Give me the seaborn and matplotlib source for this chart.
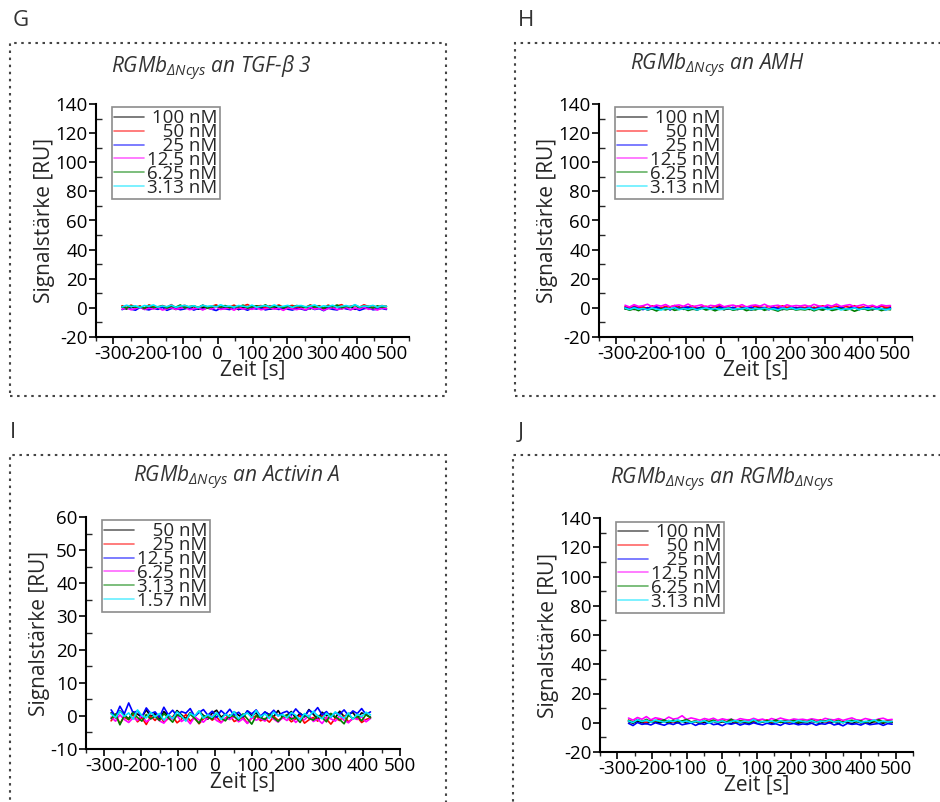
import numpy as np
import pandas as pd
import seaborn as sns
import matplotlib.pyplot as plt
from matplotlib.patches import Rectangle
from matplotlib.ticker import MultipleLocator

colors = ['#000000', '#ff0000', '#0000ff', '#ff00ff', '#008000', '#00e5ff']

conc_100 = ['100 nM', '50 nM', '25 nM', '12.5 nM', '6.25 nM', '3.13 nM']
conc_50 = ['50 nM', '25 nM', '12.5 nM', '6.25 nM', '3.13 nM', '1.57 nM']

# G: RGMb an TGF-b3
g_black = [0.3,-0.8,0.9,-0.2,1.1,-1.0,0.4,0.0,-0.6,1.3,-0.3,0.7,-1.1,0.2,0.8,-0.5,1.0,-0.9,0.1,0.6,-0.4,1.2,-0.7,0.3,-0.1,0.9,-1.2,0.5,0.2,-0.6,1.4,-0.2,0.6,-0.9,0.0,1.0,-0.5,0.4,-1.0,0.7,
           -0.3,0.8,-0.7,1.1,0.2,-0.9,0.6,-0.1,1.2,-0.6,0.3,0.9,-1.0,0.5,-0.2,1.0,-0.8,0.4,0.1,-0.5]
g_red = [1.5,0.2,1.9,0.6,1.2,-0.1,2.0,0.9,0.3,1.6,0.5,2.2,0.0,1.1,1.7,0.4,1.3,-0.2,1.8,0.7,1.0,2.1,0.3,1.4,0.6,1.9,0.1,1.2,2.3,0.5,1.0,1.6,-0.1,1.5,0.8,2.0,0.4,1.1,1.7,0.2,
         1.2,0.4,2.0,0.8,1.5,-0.1,1.9,0.6,1.3,2.2,0.3,1.0,1.7,0.5,2.1,0.9,1.4,0.2,1.6,0.8]
g_blue = [-1.2,0.1,-0.9,-1.6,0.3,-0.8,-1.4,-0.2,-1.0,0.4,-1.7,-0.5,-0.1,-1.3,-0.7,0.2,-1.5,-0.4,-1.1,0.0,-0.9,-1.8,-0.3,-0.6,-1.2,0.3,-1.0,-0.5,-1.6,-0.2,-0.8,0.1,-1.4,-0.7,-0.3,-1.1,0.2,-0.9,-1.5,-0.4,
          -0.8,-1.6,0.1,-1.1,-0.5,-1.9,-0.2,-1.0,-1.4,0.2,-0.7,-1.2,-0.3,-1.7,-0.6,0.0,-1.3,-0.9,-0.4,-1.1]
g_magenta = [-0.9,0.2,-1.3,-0.4,0.5,-1.1,-0.2,-0.8,0.3,-1.5,-0.6,0.1,-1.0,-0.3,0.4,-1.2,-0.7,0.0,-1.4,-0.1,-0.9,0.6,-1.1,-0.5,-0.2,-1.6,0.2,-0.8,-0.4,-1.0,0.3,-1.3,-0.6,0.1,-0.9,-0.3,-1.7,0.0,-0.7,-1.2,
             -0.3,-1.4,0.4,-0.9,-0.1,-1.6,-0.5,0.2,-1.1,-0.7,0.3,-1.3,-0.2,-0.8,0.5,-1.0,-0.4,-1.5,0.0,-0.6]
g_green = [1.0,-0.2,1.5,0.4,0.9,-0.4,1.7,0.2,0.8,1.3,-0.1,1.1,0.5,2.0,0.0,0.9,1.4,0.3,1.8,-0.3,0.7,1.2,0.4,1.6,0.1,1.0,0.6,1.9,-0.2,0.8,1.3,0.5,2.1,0.2,0.9,1.4,0.0,1.1,0.7,1.6,
           0.9,0.2,1.7,0.5,1.2,-0.3,1.5,0.7,2.0,0.1,1.0,0.6,1.8,0.3,1.3,0.8,-0.1,1.4,0.5,1.1]
g_cyan = [0.6,1.8,0.9,1.4,0.3,1.6,1.1,2.0,0.5,1.3,0.8,1.9,0.4,1.2,1.7,0.7,1.5,0.2,1.8,1.0,1.4,0.6,2.1,0.9,1.3,0.5,1.6,1.1,0.7,1.9,0.4,1.2,1.5,0.8,2.0,0.6,1.1,1.7,0.3,1.4,
          1.6,0.7,1.2,2.0,0.5,1.4,0.9,1.8,0.4,1.1,1.6,0.8,2.2,0.6,1.3,1.0,1.7,0.4,1.5,0.9]

# H: RGMb an AMH
h_black = [-0.8,0.3,-1.1,-0.2,0.5,-1.4,-0.5,0.1,-0.9,0.4,-1.2,-0.3,0.6,-1.0,-0.6,0.2,-1.5,-0.1,0.3,-0.9,-0.4,0.7,-1.3,-0.2,0.1,-1.0,-0.7,0.5,-1.6,-0.3,0.2,-0.8,-1.1,0.4,-0.5,-1.2,0.0,-0.6,0.3,-0.9,
           -0.2,-1.1,0.4,-0.7,-1.3,0.1,-0.5,-0.9,0.5,-1.2,-0.3,0.2,-1.0,-0.6,0.4,-1.4,-0.1,-0.8,0.3,-0.5]
h_red = [0.9,-0.3,1.2,0.2,0.7,-0.5,1.4,0.4,-0.1,1.0,0.6,1.6,-0.2,0.8,0.3,1.3,-0.4,0.5,1.1,0.0,0.9,1.5,0.2,0.7,-0.3,1.2,0.4,0.8,-0.1,1.3,0.6,0.1,1.0,-0.2,0.5,1.4,0.3,0.9,-0.4,0.6,
         0.2,1.1,-0.3,0.8,1.4,0.0,0.6,1.2,-0.2,0.9,0.4,1.5,0.1,0.7,-0.4,1.0,0.5,1.3,0.2,0.7]
h_blue = [0.3,-0.9,0.5,-0.4,-1.2,0.2,-0.6,0.7,-0.8,0.0,-1.3,0.4,-0.5,-0.1,0.6,-1.0,-0.3,0.3,-0.9,0.1,-1.4,0.5,-0.2,-0.7,0.4,-1.1,0.0,-0.5,0.6,-0.8,-0.3,0.2,-1.2,0.4,-0.6,0.1,-0.9,0.5,-0.4,-0.1,
          -0.6,0.3,-1.0,0.0,-0.4,0.6,-1.2,-0.2,0.4,-0.8,-0.1,0.5,-1.1,-0.3,0.2,-0.9,0.3,-0.5,-1.3,0.1]
h_magenta = [1.8,0.6,2.2,1.0,1.5,2.5,0.8,1.9,1.2,2.3,0.7,1.6,2.0,1.1,2.6,0.9,1.4,2.1,0.5,1.7,1.3,2.4,0.8,1.5,1.9,1.0,2.2,0.6,1.6,2.0,1.2,2.5,0.9,1.4,1.8,0.7,2.1,1.1,1.6,1.3,
             1.9,0.9,2.4,1.4,0.7,2.0,1.2,2.6,1.0,1.7,2.2,0.8,1.5,2.3,1.1,1.8,0.6,2.0,1.4,1.6]
h_green = [-0.5,-1.6,-0.7,-1.9,-0.3,-1.2,-0.8,-2.1,-0.6,-1.4,-0.2,-1.7,-1.0,-0.4,-1.8,-0.9,-1.3,-0.1,-1.5,-0.7,-2.0,-0.8,-1.1,-0.3,-1.6,-1.0,-0.5,-1.9,-0.9,-1.4,-0.2,-1.7,-0.6,-1.2,-2.2,-0.7,-1.3,-0.4,-1.5,-1.0,
           -1.4,-0.6,-2.0,-0.9,-1.5,-0.3,-1.8,-1.1,-0.5,-1.6,-0.8,-2.3,-1.2,-0.4,-1.7,-1.0,-0.6,-1.9,-0.9,-1.3]
h_cyan = [-0.2,-1.1,0.0,-0.9,-0.4,-1.3,-0.1,-0.8,-1.5,-0.3,-0.7,0.1,-1.2,-0.5,-0.9,-0.2,-1.4,-0.6,0.0,-1.0,-0.3,-1.2,-0.7,-0.1,-1.1,-0.5,-0.8,0.1,-1.3,-0.4,-0.9,-0.2,-1.0,-0.6,-1.4,-0.3,-0.8,0.0,-1.1,-0.5,
          -0.9,-0.1,-1.3,-0.5,0.1,-1.1,-0.7,-0.2,-1.4,-0.6,-0.9,0.0,-1.2,-0.4,-0.8,-0.3,-1.0,-0.5,-1.3,-0.7]

# I: RGMb an Activin A
i_black = [0.9,-0.6,1.5,0.2,-0.9,1.2,0.5,-0.4,1.8,-0.2,0.7,-1.1,1.3,0.0,-0.5,1.6,0.3,-0.8,1.0,-0.3,1.4,0.1,-1.0,0.8,1.7,-0.4,0.5,-0.7,1.2,0.2,-0.6,1.5,0.0,0.9,-0.9,1.1,0.4,-0.2,1.6,-0.5,
           0.2,1.3,-0.7,0.8,-0.3,1.9,0.5,-1.0,1.1,0.0,0.7,-0.6,1.4,-0.2,0.6,1.0,-0.8,0.9,0.3,-0.4]
i_red = [-1.5,0.2,-2.3,-0.4,-1.2,0.5,-1.8,-0.6,-2.6,-0.1,-1.4,0.3,-1.9,-0.8,-0.2,-2.1,-1.0,0.4,-1.6,-0.5,-2.4,-0.9,0.1,-1.3,-0.3,-2.0,-0.7,0.2,-1.7,-1.1,-0.4,-2.2,-0.6,0.0,-1.5,-0.8,-1.9,-0.2,-1.3,-0.7,
         -0.3,-1.8,-0.9,0.1,-2.2,-1.2,-0.5,-1.6,0.2,-1.0,-2.5,-0.7,-1.4,0.0,-1.8,-0.9,-0.4,-2.0,-1.1,-0.6]
i_blue = [1.8,-0.2,2.9,0.6,3.9,0.9,1.5,-0.3,2.4,0.7,1.2,-0.4,2.6,0.3,1.7,-0.1,1.3,0.8,2.2,-0.2,1.0,1.9,0.2,1.4,-0.5,1.6,0.4,2.0,0.1,1.1,-0.3,1.5,0.6,1.8,-0.1,1.2,0.3,1.7,0.0,0.9,
          1.4,0.2,2.1,0.6,-0.2,1.7,0.9,2.5,0.3,1.3,-0.4,1.0,0.5,1.8,0.1,1.5,0.7,2.2,0.4,1.2]
i_magenta = [-0.4,-1.6,0.3,-1.1,-2.0,-0.6,-1.4,0.2,-1.8,-0.9,-0.2,-1.5,-2.2,-0.5,-1.0,0.1,-1.7,-0.8,-2.4,-0.3,-1.2,-1.9,-0.6,0.0,-1.4,-2.1,-0.7,-1.1,-0.2,-1.8,-0.9,-2.3,-0.4,-1.3,-0.8,-1.6,0.1,-1.0,-1.9,-0.5,
             -1.4,-0.3,-2.0,-0.7,-1.2,0.2,-1.7,-1.0,-2.3,-0.5,-0.9,-1.6,0.0,-1.3,-2.1,-0.6,-1.1,-0.2,-1.8,-0.8]
i_green = [-0.8,0.6,-2.7,0.2,-1.1,0.9,-0.5,-1.6,0.4,-0.9,-0.1,-1.4,0.7,-0.6,-1.9,0.3,-0.3,-1.2,0.5,-0.8,-2.2,0.1,-0.4,-1.0,0.8,-0.7,-1.5,0.2,-0.2,-1.3,0.6,-0.9,-2.5,0.0,-0.5,-1.1,0.4,-0.6,-1.7,-0.2,
           0.3,-1.0,-0.4,-2.0,0.5,-0.7,-1.3,0.1,-0.5,-1.8,0.7,-0.3,-1.1,-2.4,0.2,-0.8,-0.1,-1.5,0.4,-0.6]
i_cyan = [0.6,-0.5,1.4,-0.2,0.9,-1.0,1.8,0.1,-0.6,1.1,-0.3,0.7,-1.3,0.4,-0.8,1.2,0.0,-1.6,0.8,-0.1,1.5,-0.7,0.3,-0.4,1.0,-1.1,0.5,-0.2,1.3,-0.9,0.2,0.9,-0.5,1.6,-0.3,0.6,-0.8,1.1,0.0,0.4,
          -0.6,1.0,0.2,-1.2,0.7,-0.3,1.4,0.0,-0.9,0.8,-0.4,1.2,0.1,-0.7,0.9,-1.0,0.5,-0.2,1.1,0.3]

# J: RGMb an RGMb
j_black = [0.8,-0.3,1.2,0.1,-0.6,0.9,0.4,-0.2,1.1,-0.5,0.6,0.0,1.3,-0.4,0.2,0.8,-0.7,0.5,-0.1,1.0,-0.3,0.7,0.2,-0.6,1.1,0.0,0.4,-0.5,0.9,-0.2,0.6,1.2,-0.4,0.3,0.8,-0.1,1.0,0.1,-0.3,0.5,
           -0.2,0.9,0.3,-0.6,1.1,0.0,0.5,-0.4,0.8,0.2,-0.7,1.0,-0.1,0.6,-0.5,0.9,0.3,-0.3,0.7,0.1]
j_red = [1.8,0.5,2.3,1.0,0.3,1.9,1.2,2.5,0.6,1.5,0.2,1.7,0.9,2.1,0.4,1.3,-0.3,1.6,0.7,1.1,0.2,1.8,0.5,1.4,0.0,1.2,0.8,1.9,0.3,1.5,0.6,2.0,0.4,1.3,0.9,1.7,0.2,1.4,0.8,1.1,
         0.4,1.6,0.9,2.1,0.3,1.3,0.7,1.8,0.1,1.2,0.6,1.9,1.0,0.2,1.5,0.8,2.0,0.5,1.4,0.9]
j_blue = [-0.4,-1.9,0.2,-1.1,-0.6,-1.5,0.0,-0.9,-1.7,-0.3,-1.2,0.1,-1.4,-0.7,-0.2,-1.8,-0.5,-1.1,0.2,-1.3,-0.8,-2.0,-0.4,-1.0,-0.1,-1.6,-0.6,-1.2,0.0,-0.9,-1.5,-0.3,-1.1,-0.7,-1.8,-0.2,-1.0,-0.5,-1.4,-0.8,
          -1.2,-0.3,-1.7,-0.6,-1.0,0.1,-1.5,-0.8,-2.1,-0.4,-1.1,-0.7,-1.6,-0.2,-1.3,-0.9,-0.5,-1.8,-0.6,-1.0]
j_magenta = [3.2,1.8,3.6,2.4,4.2,2.0,3.4,2.8,1.9,3.9,2.5,3.0,4.8,2.2,3.3,2.6,1.7,2.9,2.1,3.1,1.6,2.7,2.0,2.4,1.5,2.8,2.2,1.8,3.0,1.9,2.5,1.4,2.9,2.0,3.2,2.3,1.7,2.6,2.1,2.4,
             1.8,2.7,2.1,1.5,3.0,2.3,1.9,2.8,1.6,2.5,3.3,2.0,1.7,2.9,2.2,1.5,2.6,3.1,1.9,2.3]
j_green = [1.6,0.3,1.9,0.8,2.3,0.6,1.4,1.0,2.0,0.4,1.7,0.9,1.2,2.2,0.5,1.1,0.2,1.5,0.7,1.8,0.3,1.0,0.6,2.4,0.4,1.3,0.8,0.1,1.6,0.9,0.5,1.4,0.7,1.9,0.2,1.1,0.8,1.5,0.4,1.0,
           0.7,1.8,0.3,1.2,0.9,2.0,0.5,1.4,0.1,1.1,1.7,0.6,1.3,0.2,1.5,0.8,2.1,0.4,1.0,0.7]
j_cyan = [1.2,0.2,2.1,0.9,1.6,0.4,1.9,1.1,0.3,1.5,0.7,2.0,0.5,1.2,0.1,1.0,0.6,1.4,-0.2,0.9,0.4,1.3,0.0,0.8,1.5,0.3,1.1,0.6,2.2,0.2,0.9,0.5,1.2,0.1,1.4,0.7,1.0,0.3,1.6,0.8,
          0.5,1.4,0.2,1.1,0.7,1.8,0.4,0.9,-0.1,1.3,0.6,1.5,0.2,1.0,0.8,2.0,0.3,1.2,0.5,0.9]

# start / end of the recorded run [s]
run_g = (-275, 485)
run_h = (-275, 488)
run_i = (-282, 420)
run_j = (-268, 490)

panels = [
    dict(letter='G', title=r'$RGMb_{\Delta Ncys}$ an TGF-β 3', run=run_g, labels=conc_100,
         series=[g_black, g_red, g_blue, g_magenta, g_green, g_cyan],
         ylim=(-20, 140), ymaj=20, ymin=10, xlim=(-350, 550),
         rect=[96/940, 1-337/802, 313/940, 233/802],
         title_xy=(211, 68), letter_xy=(13, 20), box=(10, 43, 436, 353)),
    dict(letter='H', title=r'$RGMb_{\Delta Ncys}$ an AMH', run=run_h, labels=conc_100,
         series=[h_black, h_red, h_blue, h_magenta, h_green, h_cyan],
         ylim=(-20, 140), ymaj=20, ymin=10, xlim=(-350, 550),
         rect=[599/940, 1-337/802, 313/940, 233/802],
         title_xy=(717, 66), letter_xy=(518, 20), box=(515, 43, 500, 353)),
    dict(letter='I', title=r'$RGMb_{\Delta Ncys}$ an Activin A', run=run_i, labels=conc_50,
         series=[i_black, i_red, i_blue, i_magenta, i_green, i_cyan],
         ylim=(-10, 60), ymaj=10, ymin=5, xlim=(-350, 500),
         rect=[86/940, 1-749/802, 314/940, 232/802],
         title_xy=(237, 478), letter_xy=(10, 433), box=(10, 455, 436, 400)),
    dict(letter='J', title=r'$RGMb_{\Delta Ncys}$ an $RGMb_{\Delta Ncys}$', run=run_j, labels=conc_100,
         series=[j_black, j_red, j_blue, j_magenta, j_green, j_cyan],
         ylim=(-20, 140), ymaj=20, ymin=10, xlim=(-350, 550),
         rect=[600/940, 1-752/802, 313/940, 234/802],
         title_xy=(722, 480), letter_xy=(518, 433), box=(513, 455, 500, 400)),
]


def pad_label(lab):
    # right-align the legend entries with figure / punctuation spaces
    digits = sum(c.isdigit() for c in lab.split()[0])
    pad = '\u2007' * (3 - digits)
    if '.' not in lab:
        pad += '\u2008'
    return pad + lab


sns.set_style('white')
plt.rcParams['font.family'] = ['Open Sans', 'DejaVu Sans']
plt.rcParams['axes.unicode_minus'] = False
plt.rcParams['mathtext.fontset'] = 'custom'
plt.rcParams['mathtext.it'] = 'Open Sans:italic'
plt.rcParams['mathtext.rm'] = 'Open Sans:italic'
plt.rcParams['mathtext.default'] = 'it'

W, H = 940, 802
fig = plt.figure(figsize=(9.4, 8.02), dpi=100)

for p in panels:
    rows = []
    for lab, vals in zip(p['labels'], p['series']):
        t = np.linspace(p['run'][0], p['run'][1], len(vals))
        for ti, v in zip(t, vals):
            rows.append({'Zeit': ti, 'Signal': v, 'conc': lab})
    df = pd.DataFrame(rows)

    ax = fig.add_axes(p['rect'])
    sns.lineplot(data=df, x='Zeit', y='Signal', hue='conc', hue_order=p['labels'],
                 palette=colors, estimator=None, sort=False, linewidth=1.2, ax=ax)

    ax.set_xlim(*p['xlim'])
    ax.set_ylim(*p['ylim'])
    ax.xaxis.set_major_locator(MultipleLocator(100))
    ax.xaxis.set_minor_locator(MultipleLocator(50))
    ax.yaxis.set_major_locator(MultipleLocator(p['ymaj']))
    ax.yaxis.set_minor_locator(MultipleLocator(p['ymin']))
    ax.tick_params(which='major', direction='out', length=5, width=1.2, labelsize=13.5,
                   pad=1, colors='black', left=True, bottom=True)
    ax.tick_params(axis='y', which='minor', direction='in', length=4, width=1.0, left=True)
    ax.tick_params(axis='x', which='minor', direction='out', length=3, width=1.0, bottom=True)
    for s in ['top', 'right']:
        ax.spines[s].set_visible(False)
    for s in ['left', 'bottom']:
        ax.spines[s].set_color('black')
        ax.spines[s].set_linewidth(1.5)
    ax.set_xlabel('Zeit [s]', fontsize=15, labelpad=-3)
    ax.set_ylabel('Signalstärke [RU]', fontsize=15, labelpad=0)

    old = ax.get_legend()
    handles = old.legend_handles
    old.remove()
    leg = ax.legend(handles, [pad_label(l) for l in p['labels']], loc='upper left',
                    bbox_to_anchor=(0.05, 0.985), borderaxespad=0, fontsize=13.5,
                    labelspacing=-0.22, handlelength=1.6, handletextpad=0.2,
                    borderpad=0.1, fancybox=False, framealpha=1, edgecolor='#8c8c8c')
    leg.get_frame().set_linewidth(1.2)
    for h in leg.legend_handles:
        h.set_linewidth(1.2)
        h.set_alpha(0.6)

    tx, ty = p['title_xy']
    fig.text(tx / W, 1 - ty / H, p['title'], fontsize=15, style='italic',
             ha='center', va='center', color='#333333')
    lx, ly = p['letter_xy']
    fig.text(lx / W, 1 - ly / H, p['letter'], fontsize=16, ha='left', va='center', color='#333333')
    bx, by, bw, bh = p['box']
    fig.patches.append(Rectangle((bx / W, 1 - (by + bh) / H), bw / W, bh / H,
                                 transform=fig.transFigure, fill=False, edgecolor='#444444',
                                 linewidth=1.5, linestyle=(0, (1.2, 2.2)), clip_on=False))

fig.savefig('out.png', dpi=100)
